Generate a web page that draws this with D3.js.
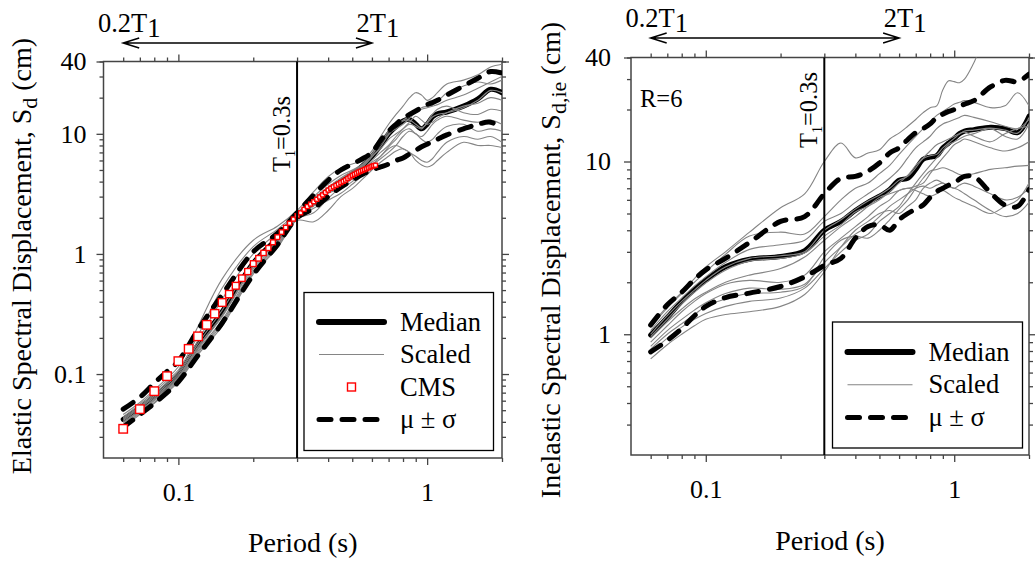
<!DOCTYPE html>
<meta charset="utf-8">
<style>
  body { margin: 0; background: #fff; }
  svg text { font-family: "Liberation Serif", "Times New Roman", serif; fill: #000; }
  .axis path { display: none; }
  .axis line { stroke: #444; stroke-width: 1.3; }
  .axis text { font-family: "Liberation Serif", serif; font-size: 26px; fill: #000; }
  .frame { fill: none; stroke: #444; stroke-width: 1.5; }
  .scaled { fill: none; stroke: #858585; stroke-width: 1.1; }
  .median { fill: none; stroke: #000; stroke-width: 5; stroke-linecap: round; }
  .sigma { fill: none; stroke: #000; stroke-width: 5; stroke-dasharray: 12,11; stroke-linecap: round; }
  .cms { fill: #fff; stroke: #f00; stroke-width: 1.4; }
  .label { font-size: 26.5px; }
  .title { font-size: 28px; }
</style>
<svg width="1035" height="564"></svg>
<script src="https://cdn.jsdelivr.net/npm/d3@7"></script>
<script>

// periods (s) shared by all curves
const periods = [0.06,0.07,0.08,0.09,0.1,0.12,0.15,0.2,0.25,0.3,0.35,0.4,0.45,0.5,0.55,0.6,0.65,0.7,0.75,0.8,0.85,0.9,0.95,1.0,1.05,1.1,1.2,1.4,1.6,1.8,2.0];

////////////////////
// ELASTIC (left)
const medianL = [0.042,0.052,0.065,0.08,0.098,0.176,0.33,0.84,1.35,2.1, 2.7,3.4,4.0,4.6,5.4,6.5, 8.0,10.0,11.5,12.8,13.2,12.0,11.0,12.0, 13.8,14.7,15.2,17,19.5,23.5,22];
const upperL  = [0.051,0.064,0.084,0.105,0.128,0.234,0.457,1.04,1.48,2.2, 3.1,4.1,5.0,5.6,6.2,7.0, 8.8,10.5,12,13.5,14.5,15.5,16.5,17.5, 18.2,19,21,25,29,33,32];
const lowerL  = [0.036,0.046,0.057,0.07,0.086,0.143,0.266,0.67,1.19,2.0, 2.4,3.0,3.6,4.1,4.6,5.0, 5.3,5.6,6.0,6.3,6.8,7.3,7.8,8.2, 8.6,9.0,9.8,11,12,12.5,11];
const scaledL = [
  [0.046,0.058,0.074,0.092,0.115,0.25,0.62,1.3,1.7,2.3, 3.3,4.4,5.2,5.6,6.0,7.2, 9.5,12.0,14.5,17.0,20.0,22.0,21.0,19.0, 20.0,22.0,26.0,28.0,31.0,36.0,38.0],
  [0.044,0.056,0.071,0.088,0.108,0.21,0.52,1.15,1.6,2.2, 3.0,3.8,4.5,5.0,5.6,6.8, 8.5,10.5,12.0,13.0,14.0,15.5,16.5,17.0, 17.5,18.5,22.0,25.0,27.0,26.0,28.0],
  [0.042,0.053,0.066,0.082,0.1,0.18,0.34,0.86,1.35,2.1, 2.7,3.4,4.0,4.6,5.3,6.4, 7.8,9.8,11.5,12.8,13.0,12.0,11.2,12.2, 13.8,14.5,15.0,16.5,19.0,23.0,22.0],
  [0.041,0.052,0.064,0.079,0.096,0.17,0.31,0.8,1.3,2.05, 2.6,3.3,4.2,4.8,5.4,6.5, 7.5,9.0,10.0,11.0,12.0,11.5,11.0,12.5, 14.5,16.0,17.0,15.0,14.5,16.0,15.5],
  [0.04,0.05,0.062,0.077,0.094,0.165,0.3,0.78,1.25,2.0, 2.5,3.2,3.9,4.4,5.0,5.8, 6.5,7.8,9.0,10.5,11.0,10.0,9.5,10.5, 12.0,13.0,14.0,13.0,12.5,13.0,12.0],
  [0.039,0.049,0.061,0.075,0.092,0.16,0.28,0.75,1.2,1.95, 2.2,2.9,3.6,4.2,4.8,5.5, 6.2,7.0,8.0,9.5,10.5,10.0,9.0,8.5, 9.0,10.0,11.5,12.0,10.5,11.0,10.5],
  [0.038,0.048,0.06,0.074,0.09,0.155,0.27,0.72,1.18,1.9, 1.85,2.3,3.0,3.5,4.2,5.0, 5.8,6.5,7.2,7.5,7.0,6.5,6.0,5.8, 6.2,7.0,8.5,9.5,9.0,9.5,8.5],
  [0.037,0.047,0.058,0.072,0.088,0.15,0.26,0.7,1.15,1.95, 2.4,2.8,3.2,3.8,4.5,5.5, 6.5,7.5,8.0,7.5,7.0,6.0,5.5,5.3, 5.5,6.0,7.0,8.5,8.0,8.0,7.7],
  [0.036,0.046,0.057,0.07,0.086,0.145,0.25,0.68,1.12,2.0, 2.6,3.2,3.5,4.0,5.0,6.0, 7.0,8.0,9.5,11.0,12.5,14.0,13.0,12.0, 12.5,13.5,15.0,17.0,18.0,20.0,19.0],
  [0.043,0.054,0.068,0.085,0.104,0.19,0.42,1.0,1.5,2.15, 2.9,3.6,4.3,4.9,5.5,6.7, 8.2,10.0,11.0,12.0,13.5,15.0,16.0,16.5, 17.0,17.5,19.0,21.0,24.0,27.0,30.0]
];
const cmsPeriods = [0.06,0.07,0.08,0.09,0.10,0.11,0.12,0.13,0.14,0.15,0.16,0.17,0.18,0.19,0.20,0.21,0.22,0.23,0.24,0.25,0.26,0.27,0.28,0.29,0.30,
  0.31,0.32,0.33,0.34,0.35,0.36,0.37,0.38,0.39,0.40,0.41,0.42,0.43,0.44,0.45,0.46,0.47,0.48,0.49,0.50,0.51,0.52,0.53,0.54,0.55,0.56,0.57,0.58,0.59,0.60,0.61,0.62];
const cmsValues = [0.035,0.051,0.072,0.096,0.128,0.162,0.206,0.257,0.318,0.394,0.463,0.543,0.628,0.713,0.83,0.92,1.02,1.12,1.25,1.38,1.52,1.66,1.8,1.95,2.08,
  2.2,2.35,2.48,2.6,2.72,2.85,2.98,3.1,3.25,3.4,3.52,3.62,3.72,3.82,3.92,4.02,4.12,4.25,4.38,4.5,4.6,4.7,4.8,4.88,4.96,5.04,5.12,5.2,5.28,5.36,5.42,5.48];

////////////////////
// INELASTIC (right)
const medianR = [0.99,1.25,1.55,1.82,2.06,2.46,2.72,2.82,3.05,4.0, 4.5,5.2,5.8,6.3,6.9,7.8, 8.0,9.0,10.3,10.6,10.8,12.0,12.8,13.6, 14.5,15.0,15.3,15.8,15.5,14.7,18.3];
const upperR  = [1.13,1.48,1.75,2.08,2.36,2.75,3.4,4.5,4.8,6.5, 8.0,8.2,8.8,9.8,11.2,12.0, 13.4,14.7,15.5,16.5,18.0,18.8,19.5,20.0, 20.8,21.5,22.5,27.0,29.5,29.0,32];
const lowerR  = [0.79,0.92,1.08,1.28,1.45,1.63,1.73,1.89,2.15,2.5, 2.75,3.6,4.2,4.3,4.0,4.6, 5.0,5.3,5.6,6.2,6.7,7.0,7.3,7.5, 7.9,8.2,8.2,6.6,5.6,5.5,6.9];
const scaledR = [
  [1.12,1.45,1.75,2.1,2.45,3.0,3.9,5.4,6.5,10.0, 12.8,10.5,11.2,11.7,13.5,14.6, 16.0,17.5,19.2,20.5,21.0,26.0,29.3,29.0, 28.6,30.0,37.3,60,60,60,60],
  [1.1,1.42,1.72,2.0,2.3,2.9,3.7,3.9,3.8,4.8, 6.0,7.0,7.5,8.5,9.5,11.0, 12.5,14.0,15.5,17.0,18.5,19.5,20.5,21.5, 22.0,22.5,22.0,20.5,21.0,25.0,21.0],
  [1.05,1.35,1.62,1.9,2.15,2.6,3.1,3.3,3.5,4.5, 5.0,5.8,6.5,7.2,8.0,9.0, 10.5,12.0,13.0,14.0,15.5,16.5,17.0,17.5, 18.0,18.5,18.0,17.0,16.0,15.5,17.5],
  [1.0,1.28,1.55,1.8,2.05,2.45,2.75,2.85,3.0,4.0, 4.6,5.3,5.9,6.4,7.0,7.8, 8.2,9.2,10.4,10.8,11.0,12.0,12.8,13.6, 14.4,15.0,15.2,15.6,15.2,14.6,18.0],
  [0.97,1.22,1.5,1.75,1.98,2.35,2.65,2.75,2.95,3.7, 4.3,5.1,5.5,6.0,6.7,7.5, 8.3,9.5,10.5,11.5,12.5,13.0,13.5,14.0, 14.5,14.8,14.0,13.0,14.5,15.5,16.0],
  [0.95,1.18,1.4,1.6,1.75,2.0,2.2,2.4,2.8,3.5, 4.2,4.8,5.5,6.2,6.5,6.8, 7.0,7.2,7.5,8.5,9.5,10.5,11.5,12.5, 13.0,13.5,13.0,12.0,11.5,12.0,13.0],
  [0.9,1.12,1.35,1.55,1.72,1.95,2.05,2.0,2.2,3.0, 3.6,4.2,4.8,5.5,6.0,6.8, 7.0,6.8,6.5,6.3,6.5,6.8,6.5,6.2, 6.0,5.8,5.5,5.0,5.5,6.0,7.5],
  [0.85,1.05,1.22,1.38,1.52,1.72,1.85,1.82,1.95,2.6, 3.2,3.8,4.2,4.8,5.5,6.0, 6.5,7.0,7.2,7.0,7.3,7.5,7.2,7.0, 6.8,6.5,6.0,5.2,4.8,5.0,5.8],
  [0.82,1.0,1.15,1.3,1.45,1.6,1.72,1.75,1.9,2.8, 3.5,3.7,3.6,4.0,4.6,5.3, 6.0,7.0,8.0,8.8,9.0,9.2,9.0,8.7, 8.4,8.3,8.5,9.0,9.2,9.4,9.5],
  [0.78,0.95,1.1,1.22,1.32,1.45,1.55,1.62,1.85,2.4, 3.0,3.5,3.8,4.5,5.0,5.5, 6.5,7.5,8.5,9.5,10.5,11.5,12.5,13.0, 13.5,14.0,14.5,15.5,14.0,13.5,16.5],
  [0.72,0.87,1.0,1.12,1.22,1.3,1.35,1.45,1.7,2.3, 3.2,4.0,4.5,5.0,5.2,5.0, 5.5,6.0,7.0,7.5,7.8,7.5,7.2,7.0, 7.3,7.5,7.2,6.5,6.0,6.2,7.0]
];

// ticks
const xMajor = [0.1, 1];
const xMinor = [0.06,0.07,0.08,0.09,0.2,0.3,0.4,0.5,0.6,0.7,0.8,0.9,2];
const yMinorL = [0.03,0.04,0.05,0.06,0.07,0.08,0.09,0.2,0.3,0.4,0.5,0.6,0.7,0.8,0.9,2,3,4,5,6,7,8,9,20,30,40];
const yMinorR = [0.3,0.4,0.5,0.6,0.7,0.8,0.9,2,3,4,5,6,7,8,9,20,30,40];
const yLabelsL = [0.1, 1, 10, 40];
const yLabelsR = [1, 10, 40];

const T1 = 0.3, arrowFrom = 0.06, arrowTo = 0.6;

const svg = d3.select("svg");

function drawPanel(p) {
  const x = d3.scaleLog().domain([0.05, 2]).range(p.xr);
  const y = d3.scaleLog().domain(p.yd).range(p.yr);
  const g = svg.append("g");
  const [x0, x1] = p.xr, [yb, yt] = p.yr;

  g.append("clipPath").attr("id", p.id + "clip")
    .append("rect").attr("x", x0).attr("y", yt).attr("width", x1 - x0).attr("height", yb - yt);

  // axes: minor + major, all four sides
  const ax = (gen, tr) => g.append("g").attr("class", "axis").attr("transform", tr).call(gen);
  ax(d3.axisBottom(x).tickValues(xMinor).tickSize(4).tickFormat(""), `translate(0,${yb})`);
  ax(d3.axisBottom(x).tickValues(xMajor).tickSize(7).tickPadding(18).tickFormat(d3.format("")), `translate(0,${yb})`);
  ax(d3.axisTop(x).tickValues(xMinor).tickSize(4).tickFormat(""), `translate(0,${yt})`);
  ax(d3.axisTop(x).tickValues(xMajor).tickSize(7).tickFormat(""), `translate(0,${yt})`);
  ax(d3.axisLeft(y).tickValues(p.yMinor).tickSize(4).tickFormat(""), `translate(${x0},0)`);
  ax(d3.axisLeft(y).tickValues(p.yLabels).tickSize(7).tickPadding(p.yPad).tickFormat(d3.format("")), `translate(${x0},0)`);
  ax(d3.axisRight(y).tickValues(p.yMinor).tickSize(4).tickFormat(""), `translate(${x1},0)`);
  ax(d3.axisRight(y).tickValues(p.yLabels).tickSize(7).tickFormat(""), `translate(${x1},0)`);

  g.append("rect").attr("class", "frame")
    .attr("x", x0).attr("y", yt).attr("width", x1 - x0).attr("height", yb - yt);

  const line = d3.line().x(d => x(d[0])).y(d => y(d[1])).curve(d3.curveCatmullRom.alpha(0.5));
  const curves = g.append("g").attr("clip-path", `url(#${p.id}clip)`);

  curves.append("path").attr("class", "median").attr("d", line(d3.zip(periods, p.median)));
  curves.selectAll(".scaled").data(p.scaled).join("path")
    .attr("class", "scaled").attr("d", s => line(d3.zip(periods, s)));
  curves.append("path").attr("class", "sigma").attr("d", line(d3.zip(periods, p.upper)));
  curves.append("path").attr("class", "sigma").attr("d", line(d3.zip(periods, p.lower)));

  if (p.cms) {
    const pts = d3.zip(cmsPeriods, cmsValues);
    curves.selectAll(".cms").data(pts).join("rect")
      .attr("class", "cms")
      .each(function(d, i) {
        const gap = i < pts.length - 1 ? x(pts[i + 1][0]) - x(d[0]) : x(d[0]) - x(pts[i - 1][0]);
        const s = Math.max(4, Math.min(8.5, gap * 1.1));
        d3.select(this).attr("x", x(d[0]) - s / 2).attr("y", y(d[1]) - s / 2)
          .attr("width", s).attr("height", s)
          .attr("stroke-width", s < 6 ? 1 : 1.4);
      });
  }

  // T1 line + label
  g.append("line").attr("x1", x(T1)).attr("x2", x(T1)).attr("y1", yt).attr("y2", yb)
    .attr("stroke", "#000").attr("stroke-width", 2);
  const tl = g.append("text").style("font-size", "24.5px")
    .attr("transform", `translate(${x(T1) - 7},${p.t1y}) rotate(-90)`);
  tl.append("tspan").text("T");
  tl.append("tspan").attr("dy", 5).style("font-size", "14px").text("1");
  tl.append("tspan").attr("dy", -5).text("=0.3s");

  // arrow 0.2T1 - 2T1
  const ay = p.arrowY, ax0 = x(arrowFrom), ax1 = x(arrowTo);
  g.append("path").attr("fill", "none").attr("stroke", "#000").attr("stroke-width", 1.5)
    .attr("d", `M${ax0},${ay}H${ax1}M${ax0 + 16},${ay - 5}L${ax0},${ay}L${ax0 + 16},${ay + 5}M${ax1 - 16},${ay - 5}L${ax1},${ay}L${ax1 - 16},${ay + 5}`);
  [[arrowFrom, "0.2T"], [arrowTo, "2T"]].forEach(([t, s]) => {
    const tx = g.append("text").attr("class", "label").attr("text-anchor", "middle")
      .attr("x", x(t) + 6).attr("y", ay - 11);
    tx.append("tspan").text(s);
    tx.append("tspan").attr("dy", 5).text("1");
  });

  // axis titles
  g.append("text").attr("class", "title").attr("text-anchor", "middle")
    .attr("x", (x0 + x1) / 2).attr("y", p.xTitleY).text("Period (s)");
  const yt1 = g.append("text").attr("class", "title").attr("text-anchor", "middle")
    .attr("transform", `translate(${p.yTitleX},${p.yTitleY}) rotate(-90)`);
  yt1.append("tspan").text(p.yTitle);
  yt1.append("tspan").attr("dy", 6).style("font-size", "22px").text(p.ySub);
  yt1.append("tspan").attr("dy", -6).text(" (cm)");

  if (p.note) {
    g.append("text").style("font-size", "24.5px")
      .attr("x", x0 + 9).attr("y", yt + 49).text(p.note);
  }

  // legend
  const L = p.legend;
  const lg = g.append("g");
  lg.append("rect").attr("x", L.x).attr("y", L.y).attr("width", L.w).attr("height", L.h)
    .attr("fill", "#fff").attr("stroke", "#000").attr("stroke-width", 1.3);
  L.items.forEach((it, i) => {
    const cy = L.y + L.first + i * L.step;
    const sx0 = L.x + 13, sx1 = L.x + 82;
    if (it === "CMS") {
      lg.append("rect").attr("class", "cms").attr("x", (sx0 + sx1) / 2 - 4).attr("y", cy - 4)
        .attr("width", 8).attr("height", 8);
    } else {
      lg.append("line").attr("x1", sx0 + 2).attr("x2", sx1 - 2).attr("y1", cy).attr("y2", cy)
        .attr("class", it === "Median" ? "median" : it === "Scaled" ? "scaled" : "sigma")
        .style("stroke-width", it === "Median" ? 6 : null);
    }
    lg.append("text").attr("class", "label").attr("x", L.x + 96).attr("y", cy + 8.5).text(it);
  });
}

drawPanel({
  id: "L", xr: [103.5, 502], yd: [0.02, 40], yr: [458, 61.5],
  yMinor: yMinorL, yLabels: yLabelsL, yPad: 10,
  median: medianL, upper: upperL, lower: lowerL, scaled: scaledL, cms: true,
  t1y: 172, arrowY: 43, xTitleY: 552, yTitleX: 31, yTitleY: 256,
  yTitle: "Elastic Spectral Displacement, S", ySub: "d",
  legend: { x: 304, y: 292.5, w: 189.5, h: 158, first: 29.5, step: 32.5,
            items: ["Median", "Scaled", "CMS", "\u03bc \u00b1 \u03c3"] }
});

drawPanel({
  id: "R", xr: [631, 1029], yd: [0.2, 40], yr: [455, 57.5],
  yMinor: yMinorR, yLabels: yLabelsR, yPad: 13,
  median: medianR, upper: upperR, lower: lowerR, scaled: scaledR, cms: false,
  t1y: 148, arrowY: 38, xTitleY: 550, yTitleX: 560, yTitleY: 260,
  yTitle: "Inelastic Spectral Displacement, S", ySub: "d,ie",
  note: "R=6",
  legend: { x: 832.5, y: 322, w: 190, h: 126, first: 30, step: 32.8,
            items: ["Median", "Scaled", "\u03bc \u00b1 \u03c3"] }
});
</script>
